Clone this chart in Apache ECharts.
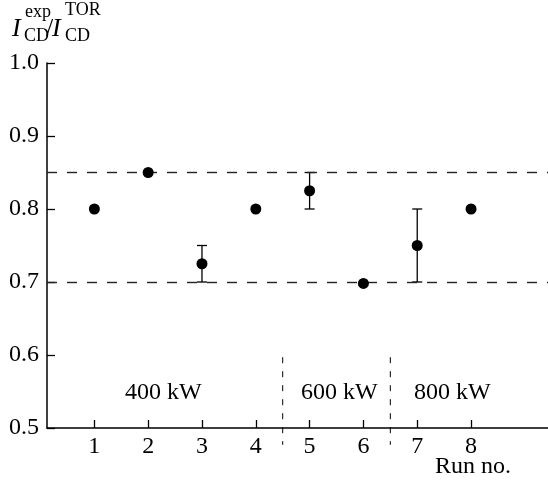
<!DOCTYPE html>
<html>
<head>
<meta charset="utf-8">
<script src="https://cdn.jsdelivr.net/npm/echarts@6/dist/echarts.min.js"></script>
<style>html,body{margin:0;padding:0;background:#fff}#c{width:548px;height:485px}</style>
</head>
<body>
<div id="c"></div>
<script>
// ---- data ----
var runs = [1, 2, 3, 4, 5, 6, 7, 8];
var ratio = [0.80, 0.85, 0.725, 0.80, 0.825, 0.698, 0.75, 0.80];
var errLow = [null, null, 0.70, null, 0.80, null, 0.70, null];
var errHigh = [null, null, 0.75, null, 0.85, null, 0.80, null];
var refLevels = [0.85, 0.70];
var separators = [4.5, 6.5];
var groupLabels = ['400 kW', '600 kW', '800 kW'];
var groupCenters = [2.28, 5.55, 7.65];
var groupLevel = 0.548;
var xTicks = [1, 2, 3, 4, 5, 6, 7, 8];
var yTicks = [0.5, 0.6, 0.7, 0.8, 0.9, 1.0];

var FONT = '"Liberation Serif", "DejaVu Serif", serif';
var xMin = 0.12, xMax = 9.43;

var chart = echarts.init(document.getElementById('c'));

var points = runs.map(function (r, i) { return [r, ratio[i]]; });
var errs = [];
runs.forEach(function (r, i) { if (errLow[i] != null) errs.push([r, errLow[i], errHigh[i]]); });

var series = [];
// reference dashed lines
series.push({
  type: 'line', data: [], silent: true,
  markLine: {
    silent: true, symbol: 'none', label: {show: false},
    lineStyle: {color: '#222', type: [10, 10], width: 1.4},
    data: refLevels.map(function (v) { return {yAxis: v}; })
  }
});
// separators
separators.forEach(function (s) {
  series.push({
    type: 'line', clip: false, silent: true, symbol: 'none',
    data: [[s, 0.597], [s, 0.477]],
    lineStyle: {color: '#000', width: 1, type: [6, 8]}
  });
});
// error bars
series.push({
  type: 'custom', clip: false, silent: true,
  data: errs,
  renderItem: function (params, api) {
    var x = api.value(0);
    var lo = api.coord([x, api.value(1)]);
    var hi = api.coord([x, api.value(2)]);
    var c = 5;
    var st = {stroke: '#000', lineWidth: 1.3};
    return {type: 'group', children: [
      {type: 'line', shape: {x1: lo[0], y1: lo[1], x2: hi[0], y2: hi[1]}, style: st},
      {type: 'line', shape: {x1: lo[0] - c, y1: lo[1], x2: lo[0] + c, y2: lo[1]}, style: st},
      {type: 'line', shape: {x1: hi[0] - c, y1: hi[1], x2: hi[0] + c, y2: hi[1]}, style: st}
    ]};
  },
  encode: {x: 0, y: [1, 2]}
});
// points
series.push({
  type: 'scatter', data: points, symbol: 'circle', symbolSize: 11,
  itemStyle: {color: '#000', opacity: 1}, silent: true, z: 5
});
// group labels
series.push({
  type: 'scatter', silent: true, symbolSize: 1,
  itemStyle: {color: 'rgba(0,0,0,0)', opacity: 1},
  data: groupLabels.map(function (t, i) { return {value: [groupCenters[i], groupLevel], name: t}; }),
  label: {show: true, position: 'inside', formatter: '{b}', color: '#000', opacity: 1, fontFamily: FONT, fontSize: 24}
});

function txt(s, left, top, size, italic) {
  return {type: 'text', left: left, top: top, style: {
    text: s, fontFamily: FONT, fontSize: size, fontStyle: italic ? 'italic' : 'normal', fill: '#000'}};
}

chart.setOption({
  animation: false,
  backgroundColor: '#fff',
  grid: {left: 47, right: 0, top: 63, bottom: 57, containLabel: false},
  xAxis: {
    type: 'value', min: xMin, max: xMax,
    splitLine: {show: false},
    axisLine: {show: true, lineStyle: {color: '#000', width: 1.5}},
    axisTick: {show: true, inside: true, length: 8, lineStyle: {color: '#000', width: 1.3}, customValues: xTicks},
    axisLabel: {color: '#000', fontFamily: FONT, fontSize: 24, margin: 7, customValues: xTicks}
  },
  yAxis: {
    type: 'value', min: 0.5, max: 1.0, interval: 0.1,
    splitLine: {show: false},
    axisLine: {show: true, lineStyle: {color: '#000', width: 1.5}},
    axisTick: {show: true, inside: true, length: 8, lineStyle: {color: '#000', width: 1.3}},
    axisLabel: {color: '#000', fontFamily: FONT, fontSize: 24, margin: 8,
      formatter: function (v) { return v.toFixed(1); }}
  },
  graphic: [
    txt('Run no.', 435, 455, 24, false),
    txt('I', 12, 16, 26, true),
    txt('exp', 25, 3, 18, false),
    txt('CD', 24, 27, 18, false),
    txt('/', 46, 16, 26, false),
    txt('I', 52, 16, 26, true),
    txt('TOR', 65, 1, 18, false),
    txt('CD', 65, 27, 18, false)
  ],
  series: series
});
</script>
</body>
</html>
